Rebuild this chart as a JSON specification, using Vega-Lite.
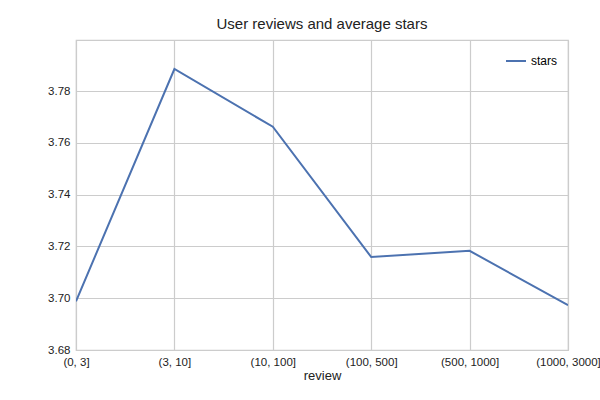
{
  "$schema": "https://vega.github.io/schema/vega-lite/v6.json",
  "width": 492,
  "height": 310,
  "autosize": {"type": "none"},
  "padding": {"left": 76, "top": 40, "right": 32, "bottom": 50},
  "background": "white",
  "title": {"text": "User reviews and average stars", "font": "Liberation Sans", "fontSize": 15, "fontWeight": "normal", "color": "#222222", "offset": 8},
  "config": {
    "view": {"stroke": "#cccccc", "strokeWidth": 1.2},
    "axis": {"labelFont": "Liberation Sans", "titleFont": "Liberation Sans", "labelFontSize": 11.5, "titleFontSize": 13, "titleFontWeight": "normal", "labelColor": "#222222", "titleColor": "#222222", "grid": true, "gridColor": "#cccccc", "gridWidth": 1.2, "domain": false, "ticks": false, "labelPadding": 6},
    "legend": {"labelFont": "Liberation Sans", "labelFontSize": 12}
  },
  "data": {"values": [
    {"review": "(0, 3]", "stars": 3.6988, "s": "stars"},
    {"review": "(3, 10]", "stars": 3.7885, "s": "stars"},
    {"review": "(10, 100]", "stars": 3.7662, "s": "stars"},
    {"review": "(100, 500]", "stars": 3.7159, "s": "stars"},
    {"review": "(500, 1000]", "stars": 3.7183, "s": "stars"},
    {"review": "(1000, 3000]", "stars": 3.6973, "s": "stars"}
  ]},
  "mark": {"type": "line", "strokeWidth": 2, "clip": true},
  "encoding": {
    "x": {"field": "review", "type": "ordinal", "sort": null, "scale": {"type": "point", "padding": 0}, "axis": {"labelAngle": 0, "grid": true, "title": "review", "titlePadding": 2}},
    "y": {"field": "stars", "type": "quantitative", "scale": {"domain": [3.68, 3.7997], "nice": false, "zero": false}, "axis": {"values": [3.68, 3.7, 3.72, 3.74, 3.76, 3.78], "format": ".2f", "title": null}},
    "color": {"field": "s", "type": "nominal", "scale": {"range": ["#4c72b0"]}, "legend": {"title": null, "orient": "top-right", "symbolType": "stroke", "symbolStrokeWidth": 2, "symbolSize": 400, "offset": 10}}
  }
}
